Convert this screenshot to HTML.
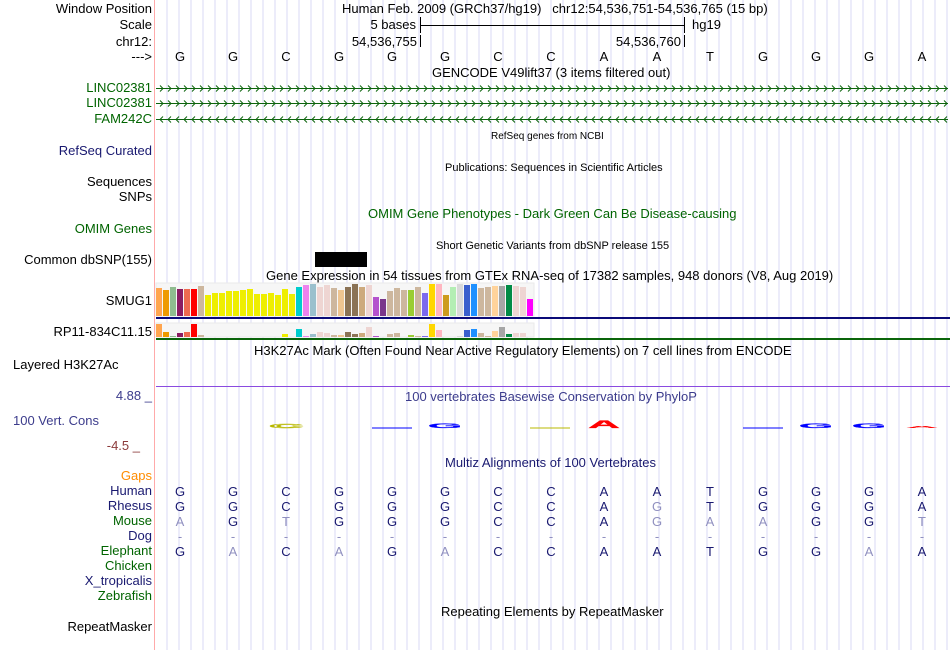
<!DOCTYPE html>
<html><head><meta charset="utf-8">
<style>
body{margin:0;background:#fff;}
#wrap{position:relative;width:950px;height:650px;overflow:hidden;background:#fff;font-family:"Liberation Sans",sans-serif;}
.lbl{position:absolute;right:798px;font-size:13px;white-space:nowrap;line-height:14px;}
.t{position:absolute;font-size:13px;white-space:nowrap;line-height:14px;}
.s{font-size:11px;}
svg{position:absolute;left:0;top:0;}
</style></head><body>
<div id="wrap">
<svg id="g" width="950" height="650"></svg>

<div class="lbl" style="top:2px;color:#000">Window Position</div>
<div class="lbl" style="top:18px;color:#000">Scale</div>
<div class="lbl" style="top:35px;color:#000">chr12:</div>
<div class="lbl" style="top:50px;color:#000">---&gt;</div>
<div class="lbl" style="top:81px;color:#006400">LINC02381</div>
<div class="lbl" style="top:96px;color:#006400">LINC02381</div>
<div class="lbl" style="top:112px;color:#006400">FAM242C</div>
<div class="lbl" style="top:144px;color:#191970">RefSeq Curated</div>
<div class="lbl" style="top:175px;color:#000">Sequences</div>
<div class="lbl" style="top:190px;color:#000">SNPs</div>
<div class="lbl" style="top:222px;color:#006400">OMIM Genes</div>
<div class="lbl" style="top:253px;color:#000">Common dbSNP(155)</div>
<div class="lbl" style="top:294px;color:#000">SMUG1</div>
<div class="lbl" style="top:325px;color:#000">RP11-834C11.15</div>
<div class="t" style="left:13px;top:358px;color:#000">Layered H3K27Ac</div>
<div class="lbl" style="top:389px;color:#3c3c8c">4.88 _</div>
<div class="t" style="left:13px;top:414px;color:#3c3c8c">100 Vert. Cons</div>
<div class="lbl" style="top:439px;color:#8b3a3a;right:810px">-4.5 _</div>
<div class="lbl" style="top:469px;color:#ff8c00">Gaps</div>
<div class="lbl" style="top:484px;color:#191970">Human</div>
<div class="lbl" style="top:499px;color:#191970">Rhesus</div>
<div class="lbl" style="top:514px;color:#006400">Mouse</div>
<div class="lbl" style="top:529px;color:#191970">Dog</div>
<div class="lbl" style="top:544px;color:#006400">Elephant</div>
<div class="lbl" style="top:559px;color:#006400">Chicken</div>
<div class="lbl" style="top:574px;color:#191970">X_tropicalis</div>
<div class="lbl" style="top:589px;color:#006400">Zebrafish</div>
<div class="lbl" style="top:620px;color:#000">RepeatMasker</div>

<div class="t" style="left:342px;top:2px">Human Feb. 2009 (GRCh37/hg19)&nbsp;&nbsp;&nbsp;chr12:54,536,751-54,536,765 (15 bp)</div>
<div class="t" style="right:534px;top:18px">5 bases</div>
<div class="t" style="left:692px;top:18px">hg19</div>
<div class="t" style="right:533px;top:35px">54,536,755</div>
<div class="t" style="right:269px;top:35px">54,536,760</div>
<div class="t" style="left:432px;top:66px">GENCODE V49lift37 (3 items filtered out)</div>
<div class="t" style="left:491px;top:130px;font-size:10px">RefSeq genes from NCBI</div>
<div class="t s" style="left:445px;top:161px">Publications: Sequences in Scientific Articles</div>
<div class="t" style="left:368px;top:207px;color:#006400">OMIM Gene Phenotypes - Dark Green Can Be Disease-causing</div>
<div class="t s" style="left:436px;top:239px">Short Genetic Variants from dbSNP release 155</div>
<div class="t" style="left:266px;top:269px">Gene Expression in 54 tissues from GTEx RNA-seq of 17382 samples, 948 donors (V8, Aug 2019)</div>
<div class="t" style="left:254px;top:344px">H3K27Ac Mark (Often Found Near Active Regulatory Elements) on 7 cell lines from ENCODE</div>
<div class="t" style="left:405px;top:390px;color:#3c3c8c">100 vertebrates Basewise Conservation by PhyloP</div>
<div class="t" style="left:445px;top:456px;color:#191970">Multiz Alignments of 100 Vertebrates</div>
<div class="t" style="left:441px;top:605px">Repeating Elements by RepeatMasker</div>
</div>
<script>
const bases=["G","G","C","G","G","G","C","C","A","A","T","G","G","G","A"];
const rhesus=["G","G","C","G","G","G","C","C","A","G","T","G","G","G","A"];
const mouse=["A","G","T","G","G","G","C","C","A","G","A","A","G","G","T"];
const dog=["-","-","-","-","-","-","-","-","-","-","-","-","-","-","-"];
const elephant=["G","A","C","A","G","A","C","C","A","A","T","G","G","A","A"];
const smug1=[28,26,29,27,27,27,30,21,23,23,25,25,26,27,22,22,23,21,27,22,29,31,32,29,31,28,26,29,32,29,31,19,17,25,28,26,26,29,23,32,32,21,29,32,31,32,28,29,30,30,31,30,29,17];
const rp11=[13,5,1,4,5,13,2,0,0,0,0,0,0,0,0,0,0,0,3,0,8,1,3,5,4,2,2,5,3,4,10,1,0,3,4,0,2,1,1,13,7,0,0,1,7,8,4,1,6,10,3,4,4,0];
const tissueColors=["#FFA54F","#EE9A00","#8FBC8F","#8B1C62","#EE6A50","#FF0000","#CDB79E","#EEEE00","#EEEE00","#EEEE00","#EEEE00","#EEEE00","#EEEE00","#EEEE00","#EEEE00","#EEEE00","#EEEE00","#EEEE00","#EEEE00","#EEEE00","#00CDCD","#EE82EE","#9AC0CD","#EED5D2","#EED5D2","#CDB79E","#EEC591","#8B7355","#8B7355","#CDAA7D","#EED5D2","#B452CD","#7A378B","#CDB79E","#CDB79E","#CDB79E","#9ACD32","#CDB79E","#7B68EE","#FFD700","#FFB6C1","#CD9B1D","#B4EEB4","#D9D9D9","#3A5FCD","#1E90FF","#CDB79E","#CDB79E","#FFD39B","#A6A6A6","#008B45","#EED5D2","#EED5D2","#FF00FF"];
const NS="http://www.w3.org/2000/svg";
const svg=document.getElementById('g');
function el(tag,attrs,parent){const e=document.createElementNS(NS,tag);for(const k in attrs)e.setAttribute(k,attrs[k]);(parent||svg).appendChild(e);return e;}
const X0=155, BW=53;
function bx(i){return X0+BW*i+25;}
for(let x=167;x<950;x+=12){const l=el('line',{x1:x,y1:0,x2:x,y2:650,stroke:'#d8d8f4','stroke-width':1});

}
const rl=el('line',{x1:154.5,y1:0,x2:154.5,y2:650,stroke:'#ffaaaa','stroke-width':1});


el('line',{x1:420.5,y1:17,x2:420.5,y2:33,stroke:'#000'});
el('line',{x1:684.5,y1:17,x2:684.5,y2:33,stroke:'#000'});
el('line',{x1:420,y1:25.5,x2:684,y2:25.5,stroke:'#000'});
el('line',{x1:420.5,y1:35,x2:420.5,y2:47,stroke:'#000'});
el('line',{x1:684.5,y1:35,x2:684.5,y2:47,stroke:'#000'});
bases.forEach((b,i)=>{const t=el('text',{x:bx(i),y:61,'font-size':13,'font-family':'Liberation Sans','text-anchor':'middle',fill:'#000'});t.textContent=b;

});
function gene(y,dir,name){const g=el('g',{});


el('line',{x1:156,y1:y+.5,x2:948,y2:y+.5,stroke:'#0c640c','stroke-width':1},g);
let d='';for(let x=160;x<948;x+=8){d+=dir>0?`M${x},${y-2.5}L${x+3},${y+.5}L${x},${y+3.5}`:`M${x+3},${y-2.5}L${x},${y+.5}L${x+3},${y+3.5}`;}
el('path',{d:d,stroke:'#0c640c',fill:'none','stroke-width':1},g);}
gene(88,1,'linc02381-gene-1');gene(103,1,'linc02381-gene-2');gene(119,-1,'fam242c-gene');
const sn=el('rect',{x:315,y:252,width:52,height:15,fill:'#000'});


function gtex(vals,base,h,lineCol,name){
el('rect',{x:156,y:base-h-1,width:378,height:h+1,fill:'#f6f6f6',stroke:'#eaeaea'});
vals.forEach((v,i)=>{const r=el('rect',{x:156+i*7,y:base-v,width:6,height:v,fill:tissueColors[i]});

});
el('rect',{x:156,y:base+1,width:794,height:2,fill:lineCol});}
gtex(smug1,316,32,'#0a0a78','smug1');
gtex(rp11,337,13,'#0a640a','rp11');
el('line',{x1:156,y1:386.5,x2:950,y2:386.5,stroke:'#8a4be0','stroke-width':1});
function logo(i,ch,h,col,outline){const t=el('text',{x:0,y:0,'font-size':20,'font-family':'Liberation Sans','font-weight':'bold','text-anchor':'middle',fill:outline?'none':col,stroke:col,'stroke-width':outline?2:0.5,transform:`translate(${bx(i)},428) scale(2.2,${h})`});t.textContent=ch;

}
logo(2,'C',0.25,'#b8b800',true);
el('line',{x1:372,y1:428,x2:412,y2:428,stroke:'#0000ff'});
logo(5,'G',0.3,'#0000ff',false);
el('line',{x1:530,y1:428,x2:570,y2:428,stroke:'#b8b800'});
logo(8,'A',0.55,'#ff0000',false);
el('line',{x1:743,y1:428,x2:783,y2:428,stroke:'#0000ff'});
logo(12,'G',0.3,'#0000ff',false);
logo(13,'G',0.3,'#0000ff',false);
logo(14,'A',0.12,'#ff0000',false);
function row(arr,y,name){arr.forEach((b,i)=>{const same=b===bases[i];const t=el('text',{x:bx(i),y:y,'font-size':13,'font-family':'Liberation Sans','text-anchor':'middle',fill:same?'#191970':'#9090c0'});t.textContent=b;

});}
row(bases,496,'human');row(rhesus,511,'rhesus');row(mouse,526,'mouse');row(dog,541,'dog');row(elephant,556,'elephant');
</script>
</body></html>
